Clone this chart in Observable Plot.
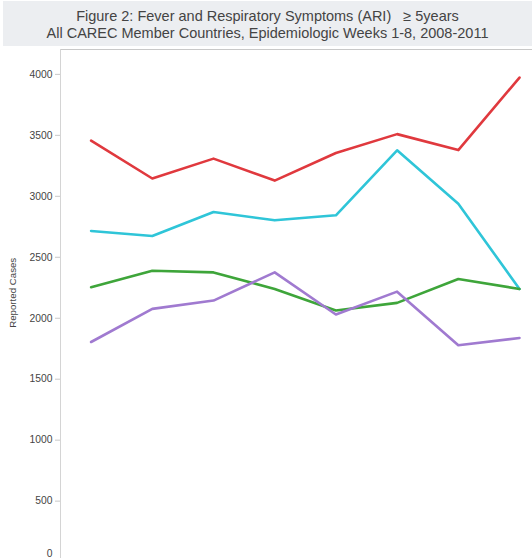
<!DOCTYPE html>
<html>
<head>
<meta charset="utf-8">
<script src="https://cdn.jsdelivr.net/npm/d3@7"></script>
<script src="https://cdn.jsdelivr.net/npm/@observablehq/plot@0.6"></script>
<style>
  html, body { margin: 0; padding: 0; background: #fff; overflow: hidden; }
  body { width: 532px; height: 558px; }
  #title {
    margin: 1px 0 0 3px; height: 45px; background: #eceef1;
    font-family: "Liberation Sans", Arial, sans-serif; font-size: 14.5px; color: #444;
    text-align: center; line-height: 17px; padding-top: 7px; box-sizing: border-box;
  }
  #chart svg { display: block; }
</style>
</head>
<body>
<div id="title">Figure 2: Fever and Respiratory Symptoms (ARI) &nbsp; ≥ 5years<br>All CAREC Member Countries, Epidemiologic Weeks 1-8, 2008-2011</div>
<div id="chart"></div>
<script>
const weeks = [1, 2, 3, 4, 5, 6, 7, 8];
const seriesNames = ["2008", "2009", "2010", "2011"];
const seriesColors = ["#e0393e", "#2fc5d8", "#3ea53a", "#a07ad0"];
const red    = [3456, 3146, 3309, 3129, 3355, 3510, 3379, 3974];
const cyan   = [2716, 2675, 2871, 2803, 2844, 3377, 2939, 2240];
const green  = [2254, 2390, 2376, 2240, 2063, 2126, 2322, 2240];
const purple = [1805, 2077, 2145, 2376, 2031, 2218, 1778, 1838];
const yTicks = [500, 1000, 1500, 2000, 2500, 3000, 3500, 4000];
const yZeroTick = [0];
const yLabel = "Reported Cases";

const seriesValues = [red, cyan, green, purple];
const data = [];
seriesNames.forEach((name, i) => {
  weeks.forEach((w, j) => data.push({series: name, week: w, value: seriesValues[i][j]}));
});

const chart = Plot.plot({
  width: 532,
  height: 537,
  marginTop: 3,
  marginBottom: 21.4,
  marginLeft: 60,
  marginRight: 0,
  style: {fontFamily: "'Liberation Sans', Arial, sans-serif", fontSize: "10.3px", color: "#444", background: "#fff"},
  x: {type: "linear", domain: [0.5, 8.5], range: [60, 549.6], axis: null},
  y: {domain: [0, 4204], axis: null},
  color: {domain: seriesNames, range: seriesColors},
  marks: [
    Plot.frame({anchor: "top", stroke: "#c8c8c8"}),
    Plot.frame({anchor: "left", stroke: "#d4d4d4"}),
    Plot.axisY({ticks: yTicks, tickSize: 5, tickPadding: 3, stroke: "#c8c8c8", fill: "#444", label: null, tickFormat: d => String(d)}),
    Plot.axisY({ticks: yZeroTick, tickSize: 0, tickPadding: 8, fill: "#444", label: null, dy: -8, tickFormat: d => String(d)}),
    Plot.text([yLabel], {frameAnchor: "left", textAnchor: "middle", rotate: -90, dx: -48, dy: -13, fontSize: 9.7, fill: "#444"}),
    Plot.line(data, {x: "week", y: "value", z: "series", stroke: "series", strokeWidth: 2.6})
  ]
});
document.getElementById("chart").appendChild(chart);
</script>
</body>
</html>
